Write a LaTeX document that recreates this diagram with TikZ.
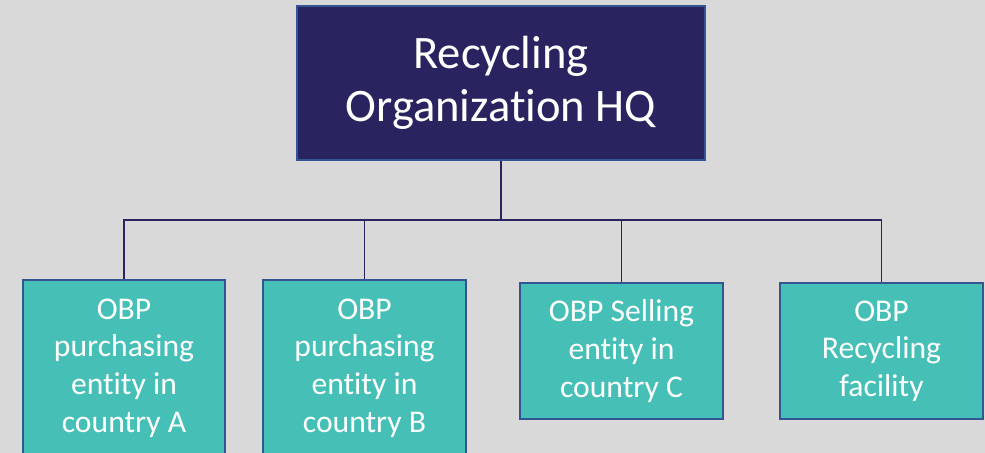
\documentclass[tikz,border=0pt]{standalone}
\usepackage{fontspec}
\setmainfont{Carlito}[Ligatures=NoCommon]
\usetikzlibrary{positioning}

\definecolor{hqblue}{RGB}{41,36,96}
\definecolor{edgeblue}{RGB}{52,84,146}
\definecolor{teal}{RGB}{70,191,183}
\definecolor{paper}{RGB}{217,217,217}

\tikzset{
  hqbox/.style={draw=edgeblue,line width=1.1pt,fill=hqblue,text=white,align=center,
    minimum width=8.16cm,minimum height=3.08cm,font=\fontsize{26.5}{30.5}\selectfont},
  unitbox/.style={draw=edgeblue,line width=1.2pt,fill=teal,text=white,align=center,
    minimum width=4.05cm,font=\fontsize{18}{21.4}\selectfont},
  orgline/.style={draw=hqblue,line width=0.8pt}
}

\begin{document}
\begin{tikzpicture}[x=0.02cm,y=-0.02cm]
  \useasboundingbox (0,0) rectangle (985,453);
  \clip (0,0) rectangle (985,453);
  \fill [paper] (0,0) rectangle (985,453);

  \node [hqbox] (hq) at (501,83) {Recycling\\Organization HQ};

  \node [unitbox,minimum height=3.52cm] (pa) at (124,368) {OBP\\purchasing\\entity in\\country A};
  \node [unitbox,minimum height=3.52cm] (pb) at (364.5,368) {OBP\\purchasing\\entity in\\country B};
  \node [unitbox,minimum height=2.72cm] (sc) at (621.5,351) {OBP Selling\\entity in\\country C};
  \node [unitbox,minimum height=2.72cm] (rf) at (881.5,351) {OBP\\Recycling\\facility};

  \coordinate (bus) at (501,220);

  \path [orgline]
    (hq.south) -- (bus)
    (bus) -| (pa.north)
    (bus) -| (pb.north)
    (bus) -| (sc.north)
    (bus) -| (rf.north);

\end{tikzpicture}
\end{document}
